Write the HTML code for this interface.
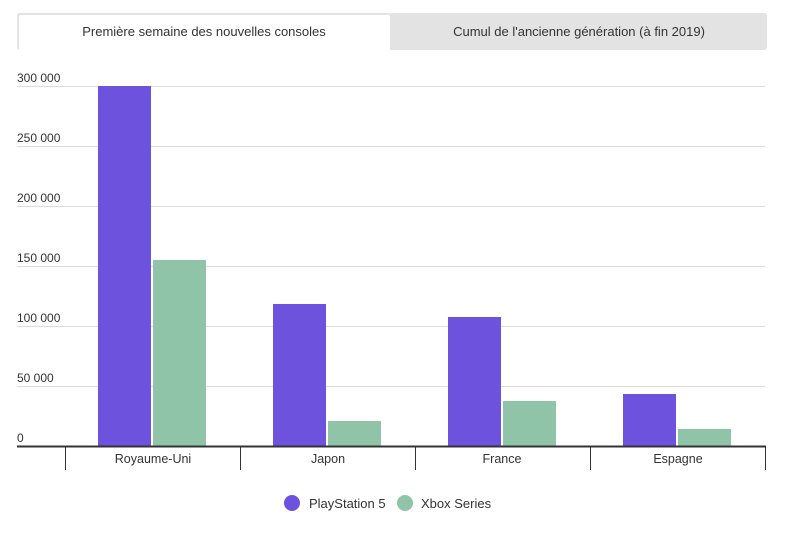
<!DOCTYPE html><html><head><style>body{margin:0;background:#fff;width:785px;height:539px;overflow:hidden;font-family:"Liberation Sans",sans-serif}</style></head><body>
<svg width="785" height="539" xmlns="http://www.w3.org/2000/svg" font-family="Liberation Sans, sans-serif">
<rect x="17" y="13" width="750" height="37" fill="#e3e3e3" rx="3"/>
<rect x="19" y="15" width="371" height="36" fill="#fff" rx="2"/>
<text x="204" y="36" font-size="13" fill="#333" text-anchor="middle">Première semaine des nouvelles consoles</text>
<text x="579" y="36" font-size="13" fill="#333" text-anchor="middle">Cumul de l'ancienne génération (à fin 2019)</text>
<g stroke="#dcdcdc" stroke-width="1">
<line x1="17" x2="765" y1="86.5" y2="86.5"/><line x1="17" x2="765" y1="146.5" y2="146.5"/><line x1="17" x2="765" y1="206.5" y2="206.5"/><line x1="17" x2="765" y1="266.5" y2="266.5"/><line x1="17" x2="765" y1="326.5" y2="326.5"/><line x1="17" x2="765" y1="386.5" y2="386.5"/></g>
<g font-size="12" fill="#333">
<text x="17" y="82">300 000</text><text x="17" y="142">250 000</text><text x="17" y="202">200 000</text><text x="17" y="262">150 000</text><text x="17" y="322">100 000</text><text x="17" y="382">50 000</text><text x="17" y="442">0</text></g>
<g fill="#6c52dc"><rect x="98" y="86" width="53" height="360"/><rect x="273" y="304" width="53" height="142"/><rect x="448" y="317" width="53" height="129"/><rect x="623" y="394" width="53" height="52"/></g>
<g fill="#8fc4a8"><rect x="153" y="260" width="53" height="186"/><rect x="328" y="421" width="53" height="25"/><rect x="503" y="401" width="53" height="45"/><rect x="678" y="429" width="53" height="17"/></g>
<line x1="17" x2="766" y1="446.5" y2="446.5" stroke="#333" stroke-width="2"/>
<g stroke="#333" stroke-width="1"><line x1="65.5" x2="65.5" y1="446" y2="470"/><line x1="240.5" x2="240.5" y1="446" y2="470"/><line x1="415.5" x2="415.5" y1="446" y2="470"/><line x1="590.5" x2="590.5" y1="446" y2="470"/><line x1="765.5" x2="765.5" y1="446" y2="470"/></g>
<g font-size="12.5" fill="#333" text-anchor="middle"><text x="153" y="463">Royaume-Uni</text><text x="328" y="463">Japon</text><text x="502" y="463">France</text><text x="678" y="463">Espagne</text></g>
<circle cx="292" cy="503" r="8" fill="#6c52dc"/><text x="309" y="508" font-size="13" fill="#333">PlayStation 5</text>
<circle cx="405" cy="503" r="8" fill="#8fc4a8"/><text x="421" y="508" font-size="13" fill="#333">Xbox Series</text>
</svg></body></html>
